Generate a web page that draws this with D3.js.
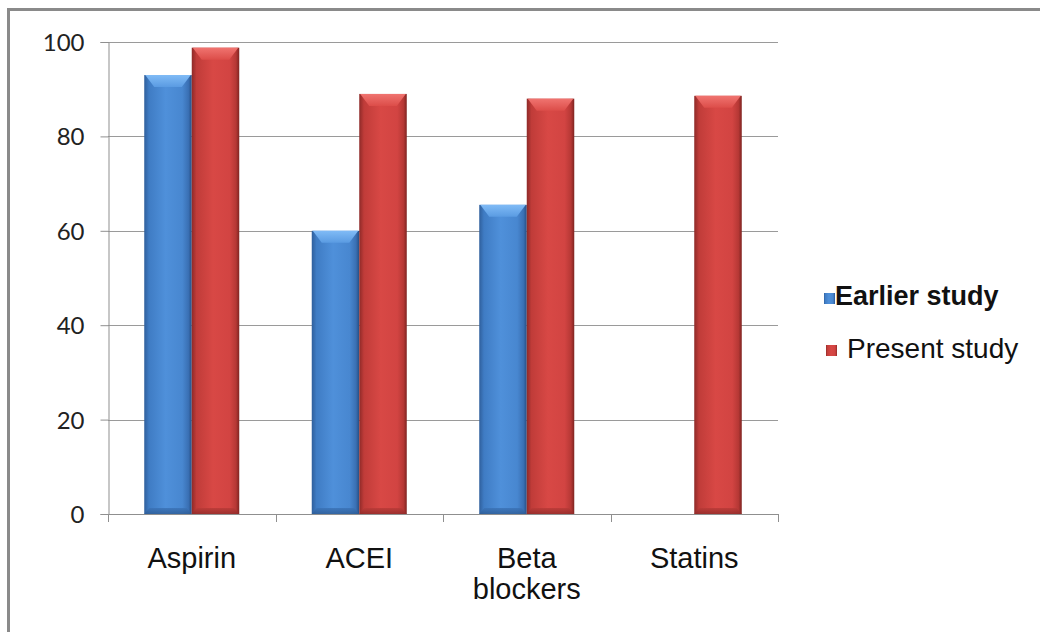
<!DOCTYPE html>
<html><head><meta charset="utf-8">
<script src="https://cdn.jsdelivr.net/npm/d3@7/dist/d3.min.js"></script>
<style>body{margin:0;background:#fff}svg{display:block}</style>
</head><body>
<svg id="c" width="1040" height="632"></svg>
<script>
const categories = ["Aspirin", "ACEI", "Beta blockers", "Statins"];
const categoryLabels = [["Aspirin"], ["ACEI"], ["Beta", "blockers"], ["Statins"]];
const seriesNames = ["Earlier study", "Present study"];
const earlier = [93, 60, 65.5, null];
const present = [98.8, 89, 88, 88.6];
const yTicks = [0, 20, 40, 60, 80, 100];

const svg = d3.select("#c");
const L = 108, R = 778, T = 42, B = 514;

// frame
svg.append("rect").attr("x", 8.5).attr("y", 9.5).attr("width", 1100).attr("height", 700)
  .attr("fill", "#fff").attr("stroke", "#8a8a8a").attr("stroke-width", 3);

const y = d3.scaleLinear().domain([0, 100]).range([B, T]);
const x0 = d3.scaleBand().domain(categories).range([L, R]).paddingInner(0).paddingOuter(0);
const x1 = d3.scaleBand().domain(seriesNames).range([0, x0.bandwidth()]).paddingInner(0).paddingOuter(0.763);

const defs = svg.append("defs");
function hgrad(id, stops) {
  const g = defs.append("linearGradient").attr("id", id).attr("x1", "0").attr("x2", "1").attr("y1", "0").attr("y2", "0");
  stops.forEach(s => g.append("stop").attr("offset", s[0]).attr("stop-color", s[1]));
}
function vgrad(id, stops) {
  const g = defs.append("linearGradient").attr("id", id).attr("x1", "0").attr("x2", "0").attr("y1", "0").attr("y2", "1");
  stops.forEach(s => g.append("stop").attr("offset", s[0]).attr("stop-color", s[1]));
}
hgrad("gBlue", [[0, "#2f5f9c"], [0.1, "#3f7cc4"], [0.45, "#4f90da"], [0.8, "#4887d0"], [0.93, "#3a70b4"], [1, "#264e84"]]);
hgrad("gRed", [[0, "#8e2a28"], [0.1, "#c03c39"], [0.45, "#d84845"], [0.8, "#d24442"], [0.93, "#b63835"], [1, "#7f2421"]]);
vgrad("cBlue", [[0, "#80bbf6"], [1, "#5a9be2"]]);
vgrad("cRed", [[0, "#f07470"], [1, "#dc4d49"]]);
vgrad("bBlue", [[0, "#3a72b6"], [1, "#2d5b94"]]);
vgrad("bRed", [[0, "#b83a37"], [1, "#8f2b29"]]);

// gridlines
svg.append("g").selectAll("line").data(yTicks.filter(d => d > 0)).join("line")
  .attr("x1", L).attr("x2", R).attr("y1", d => Math.round(y(d)) + 0.5).attr("y2", d => Math.round(y(d)) + 0.5)
  .attr("stroke", "#9a9a9a").attr("stroke-width", 1);

// bars
const colorsBar = {"Earlier study": ["gBlue", "cBlue", "bBlue"], "Present study": ["gRed", "cRed", "bRed"]};
const rows = [];
categories.forEach((c, i) => {
  [[seriesNames[0], earlier[i]], [seriesNames[1], present[i]]].forEach(([s, v]) => {
    if (v != null) rows.push({c, s, v});
  });
});
const bw = x1.bandwidth();
const bars = svg.append("g").selectAll("g").data(rows).join("g");
bars.append("rect")
  .attr("x", d => x0(d.c) + x1(d.s)).attr("y", d => y(d.v))
  .attr("width", bw).attr("height", d => B - y(d.v))
  .attr("fill", d => `url(#${colorsBar[d.s][0]})`);
// bottom bevel
bars.append("path")
  .attr("d", d => {
    const xa = x0(d.c) + x1(d.s), xb = xa + bw, h = 6, k = 5;
    return `M${xa},${B}L${xb},${B}L${xb - k},${B - h}L${xa + k},${B - h}Z`;
  })
  .attr("fill", d => `url(#${colorsBar[d.s][2]})`).attr("opacity", 0.8);
// top cap
bars.append("path")
  .attr("d", d => {
    const xa = x0(d.c) + x1(d.s), xb = xa + bw, t = y(d.v), h = 12, k = 10;
    return `M${xa + 1},${t}L${xb - 1},${t}L${xb - k},${t + h}L${xa + k},${t + h}Z`;
  })
  .attr("fill", d => `url(#${colorsBar[d.s][1]})`);

// axes
const yAxis = d3.axisLeft(y).tickValues(yTicks).tickSize(8).tickPadding(16);
const gy = svg.append("g").attr("transform", `translate(${L + 0.5},0)`).call(yAxis);
gy.select(".domain").attr("stroke", "#8f8f8f");
gy.selectAll(".tick line").attr("stroke", "#8f8f8f");
gy.selectAll(".tick text").attr("fill", "#222").attr("font-family", "Lato, 'Open Sans', sans-serif")
  .attr("font-size", 24).attr("dy", "0.35em");

svg.append("line").attr("x1", L).attr("x2", R).attr("y1", B + 0.5).attr("y2", B + 0.5).attr("stroke", "#8f8f8f");
const bounds = categories.map(c => x0(c)).concat([R]);
svg.append("g").selectAll("line").data(bounds).join("line")
  .attr("x1", d => Math.round(d) + 0.5).attr("x2", d => Math.round(d) + 0.5)
  .attr("y1", B).attr("y2", B + 8).attr("stroke", "#8f8f8f");

const xl = svg.append("g").selectAll("text").data(categories).join("text")
  .attr("x", d => x0(d) + x0.bandwidth() / 2).attr("y", 568)
  .attr("text-anchor", "middle").attr("font-family", "'Liberation Sans', Arial, sans-serif")
  .attr("font-size", 29).attr("fill", "#111");
xl.each(function(d, i) {
  const t = d3.select(this);
  categoryLabels[i].forEach((ln, j) => {
    t.append("tspan").attr("x", x0(d) + x0.bandwidth() / 2).attr("dy", j === 0 ? 0 : 31).text(ln);
  });
});

// legend
const legend = [
  {name: seriesNames[0], g: "gBlue", sx: 824, sy: 293, tx: 835, ty: 305, bold: true, fs: 27},
  {name: seriesNames[1], g: "gRed", sx: 826, sy: 345, tx: 847, ty: 358, bold: false, fs: 28}
];
const lg = svg.append("g").selectAll("g").data(legend).join("g");
lg.append("rect").attr("x", d => d.sx).attr("y", d => d.sy).attr("width", 11).attr("height", 11)
  .attr("fill", d => `url(#${d.g})`);
lg.append("text").attr("x", d => d.tx).attr("y", d => d.ty).text(d => d.name)
  .attr("font-family", "'Liberation Sans', Arial, sans-serif").attr("font-size", d => d.fs)
  .attr("font-weight", d => d.bold ? "bold" : "normal").attr("fill", "#111");
</script>
</body></html>
